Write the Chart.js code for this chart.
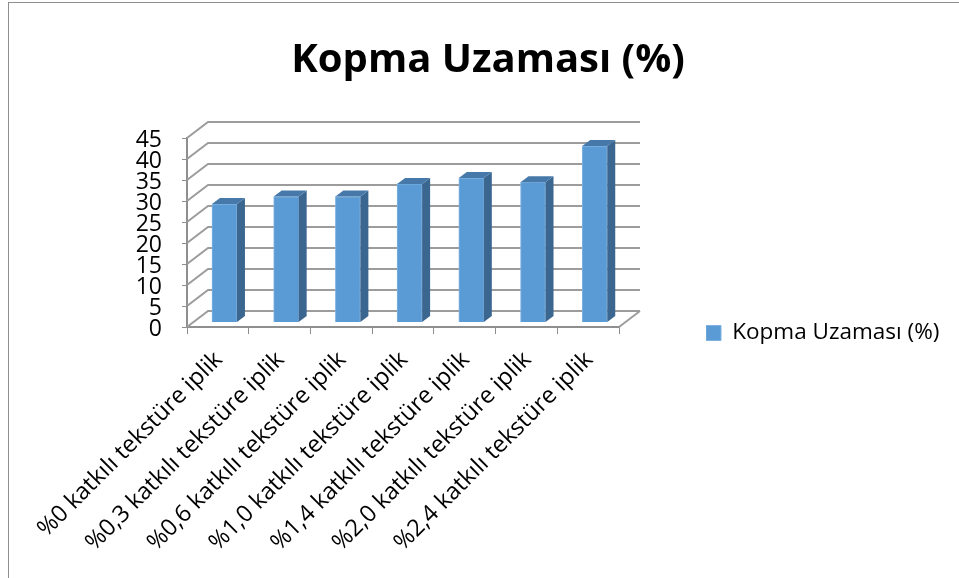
<!DOCTYPE html>
<html><head><meta charset="utf-8">
<style>
html,body{margin:0;padding:0;background:#fff;overflow:hidden}
#wrap{position:relative;width:959px;height:578px}
#frame{position:absolute;left:8px;top:2px;right:-4px;bottom:-4px;border:1px solid #8e8e8e;box-sizing:border-box;pointer-events:none}
canvas{position:absolute;left:0;top:0}
</style>
<script src="https://cdn.jsdelivr.net/npm/chart.js@4"></script>
</head><body>
<div id="wrap"><canvas id="c" width="959" height="578"></canvas><div id="frame"></div></div>
<script>
const categories = ["%0 katkılı tekstüre iplik","%0,3 katkılı tekstüre iplik","%0,6 katkılı tekstüre iplik","%1,0 katkılı tekstüre iplik","%1,4 katkılı tekstüre iplik","%2,0 katkılı tekstüre iplik","%2,4 katkılı tekstüre iplik"];
const seriesName = "Kopma Uzaması (%)";
const values = [28.2,30,30,33,34.4,33.4,42];
const yTicks = [0,5,10,15,20,25,30,35,40,45];
const FONT = "Open Sans";
const GRID = "#9c9c9c", AXIS = "#8f8f8f";
const WALL = {dx:21, dy:-16};
const BAR = {dx:6.6, dy:-4.5, depthX:8, depthY:-6};

const threeD = {
  id:"threeD",
  beforeLayout(chart){
    const lg = chart.legend;
    if(!lg._wrapped){
      const f = lg.fit;
      lg.fit = function(){ f.call(this); this.width = 340; };
      lg._wrapped = true;
    }
  },
  afterLayout(chart){
    const t = chart.titleBlock; t.left += 17;
    const lg = chart.legend;
    const h = lg.bottom - lg.top;
    lg.left = 706; lg.right = 959;
    lg.top = 333 - h/2; lg.bottom = lg.top + h;
  },
  beforeDatasetsDraw(chart){
    const {ctx, scales:{x,y}} = chart;
    ctx.save();
    ctx.lineWidth = 2;
    ctx.strokeStyle = GRID;
    yTicks.forEach(v=>{
      const p = y.getPixelForValue(v);
      ctx.beginPath();
      ctx.moveTo(x.left, p);
      ctx.lineTo(x.left+WALL.dx, p+WALL.dy);
      ctx.lineTo(x.right+WALL.dx, p+WALL.dy);
      ctx.stroke();
    });
    const p0 = y.getPixelForValue(0);
    ctx.beginPath();
    ctx.moveTo(x.right, p0);
    ctx.lineTo(x.right+WALL.dx, p0+WALL.dy);
    ctx.stroke();
    ctx.restore();
    ctx.save();
    ctx.translate(BAR.dx, BAR.dy);
  },
  afterDatasetsDraw(chart){
    const {ctx} = chart;
    ctx.restore();
    ctx.save();
    chart.getDatasetMeta(0).data.forEach(b=>{
      const l = b.x - b.width/2 + BAR.dx, r = b.x + b.width/2 + BAR.dx;
      const t = b.y + BAR.dy, bt = b.base + BAR.dy;
      ctx.fillStyle = "#3b6690";
      ctx.beginPath();
      ctx.moveTo(r,t); ctx.lineTo(r+BAR.depthX,t+BAR.depthY);
      ctx.lineTo(r+BAR.depthX,bt+BAR.depthY); ctx.lineTo(r,bt);
      ctx.closePath(); ctx.fill();
      ctx.fillStyle = "#4679a9";
      ctx.beginPath();
      ctx.moveTo(l,t); ctx.lineTo(l+BAR.depthX,t+BAR.depthY);
      ctx.lineTo(r+BAR.depthX,t+BAR.depthY); ctx.lineTo(r,t);
      ctx.closePath(); ctx.fill();
    });
    ctx.restore();
  }
};

new Chart(document.getElementById("c"),{
  type:"bar",
  data:{labels:categories,datasets:[{label:seriesName,data:values,backgroundColor:"#5b9bd5",borderColor:"#7fb2e0",borderWidth:1,barThickness:25}]},
  plugins:[threeD],
  options:{
    responsive:false,animation:false,
    layout:{padding:0},
    plugins:{
      tooltip:{enabled:false},
      title:{display:true,text:seriesName,color:"#000",font:{family:FONT,size:40,weight:"bold",lineHeight:1.2},padding:{top:37,bottom:53}},
      legend:{display:true,position:"right",align:"center",labels:{color:"#000",boxWidth:15,boxHeight:15,padding:0,font:{family:FONT,size:22.5}}}
    },
    scales:{
      x:{
        afterFit(s){s.height=251;},
        border:{display:true,color:AXIS,width:2},
        grid:{display:true,drawOnChartArea:false,drawTicks:true,tickLength:7,color:AXIS,lineWidth:1},
        ticks:{color:"#000",maxRotation:45,minRotation:45,autoSkip:false,padding:12,labelOffset:1,font:{family:FONT,size:23.5}}
      },
      y:{
        min:0,max:45,
        afterFit(s){s.width=187;},
        afterBuildTicks(s){s.ticks=yTicks.map(v=>({value:v}));},
        border:{display:true,color:AXIS,width:2},
        grid:{display:true,drawOnChartArea:false,drawTicks:true,tickLength:5,color:AXIS,lineWidth:1},
        ticks:{color:"#000",padding:20,autoSkip:false,labelOffset:2,font:{family:FONT,size:23}}
      }
    }
  }
});
</script>
</body></html>
